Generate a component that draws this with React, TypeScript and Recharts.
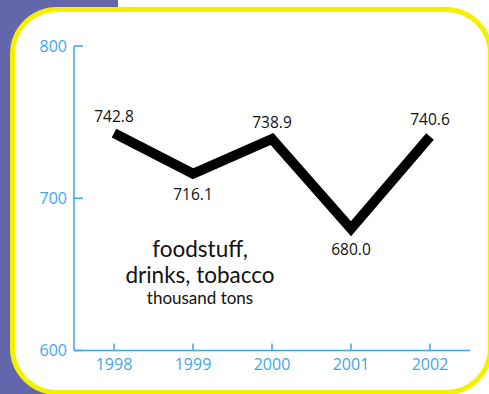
import React from "react";
import { LineChart, Line, XAxis, YAxis } from "recharts";

const years = ["1998", "1999", "2000", "2001", "2002"];
const values = [742.8, 716.1, 738.9, 680.0, 740.6];
const yTicks = [600, 700, 800];
const titleLines = ["foodstuff,", "drinks, tobacco"];
const unitLine = "thousand tons";

const data = years.map((year, i) => ({ year, value: values[i] }));

const BLUE = "#3fa6ee";
const FONT = "'Open Sans', sans-serif";
const TITLE_FONT = "Lato, 'Open Sans', sans-serif";

const YTick = (props: any) => {
  const { x, y, payload } = props;
  return (
    <g>
      <line x1={x + 7} x2={x + 16} y1={y} y2={y} stroke={BLUE} strokeWidth={1.5} />
      <text x={x} y={y} dy="0.36em" textAnchor="end" fill={BLUE} fontSize={16} fontFamily={FONT}>
        {payload.value}
      </text>
    </g>
  );
};

const XTick = (props: any) => {
  const { x, y, payload } = props;
  return (
    <g>
      <line x1={x} x2={x} y1={y} y2={y - 7} stroke={BLUE} strokeWidth={1.5} />
      <text x={x} y={y + 19} textAnchor="middle" fill={BLUE} fontSize={16} fontFamily={FONT}>
        {payload.value}
      </text>
    </g>
  );
};

const isLocalMin = (i: number) => {
  const v = values[i];
  const prev = i > 0 ? values[i - 1] : Infinity;
  const next = i < values.length - 1 ? values[i + 1] : Infinity;
  return v < prev && v < next;
};

const PointLabel = (props: any) => {
  const { x, y, value, index } = props;
  const below = isLocalMin(index);
  return (
    <text
      x={x}
      y={below ? y + 26 : y - 11}
      textAnchor="middle"
      fill="#111"
      fontSize={15.5}
      fontFamily={FONT}
    >
      {Number(value).toFixed(1)}
    </text>
  );
};

export default function App() {
  return (
    <div style={{ position: "absolute", left: 0, top: 0, width: 489, height: 394, overflow: "hidden", background: "#ffffff" }}>
      <div style={{ position: "absolute", left: 0, top: 0, width: 118, height: 394, background: "#6366aa" }} />
      <div
        style={{
          position: "absolute",
          left: 10,
          top: 7,
          width: 483,
          height: 388,
          boxSizing: "border-box",
          border: "5px solid #f5f000",
          borderRadius: 47,
          background: "#ffffff",
        }}
      />
      <div style={{ position: "absolute", left: 0, top: 0 }}>
        <LineChart
          width={489}
          height={394}
          data={data}
          margin={{ top: 46, right: 19, bottom: 13.5, left: 0 }}
        >
          <XAxis
            dataKey="year"
            padding={{ left: 40, right: 40 }}
            axisLine={{ stroke: BLUE, strokeWidth: 1.5 }}
            tickLine={false}
            tickSize={0}
            tickMargin={0}
            height={30}
            tick={<XTick />}
            interval={0}
          />
          <YAxis
            domain={[600, 800]}
            ticks={yTicks}
            width={74}
            axisLine={{ stroke: BLUE, strokeWidth: 1.5 }}
            tickLine={false}
            tickSize={0}
            tickMargin={7}
            tick={<YTick />}
            interval={0}
          />
          <Line
            type="linear"
            dataKey="value"
            stroke="#000"
            strokeWidth={10}
            strokeLinejoin="miter"
            strokeLinecap="butt"
            dot={false}
            activeDot={false}
            isAnimationActive={false}
            label={<PointLabel />}
          />
        </LineChart>
      </div>
      <svg width={489} height={394} style={{ position: "absolute", left: 0, top: 0, pointerEvents: "none" }}>
        {titleLines.map((t, i) => (
          <text key={t} x={200} y={256.5 + i * 26.5} textAnchor="middle" fill="#111" fontSize={22.5} fontFamily={TITLE_FONT}>
            {t}
          </text>
        ))}
        <text x={200} y={303.5} textAnchor="middle" fill="#111" fontSize={17} fontFamily={TITLE_FONT}>
          {unitLine}
        </text>
      </svg>
    </div>
  );
}
